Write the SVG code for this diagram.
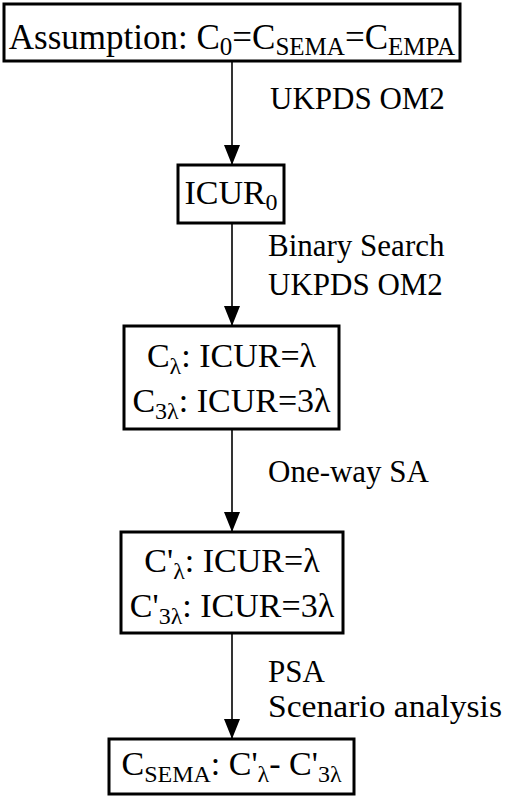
<svg xmlns="http://www.w3.org/2000/svg" width="505" height="801" viewBox="0 0 505 801">
<style>
.box{fill:#fff;stroke:#000;stroke-width:3}
.t{font-family:"Liberation Serif","Times New Roman",serif;fill:#000}
.bt{font-size:34px}
.lb{font-size:31px}
.edge{stroke:#000;stroke-width:1.6;fill:none}
</style>
<defs>
<marker id="arr" markerUnits="userSpaceOnUse" markerWidth="20" markerHeight="16" viewBox="0 0 20 16" refX="19" refY="8" orient="auto">
<path d="M0,0 L20,8 L0,16 Z" fill="#000"/>
</marker>
</defs>
<rect width="505" height="801" fill="#fff"/>
<g id="connectors">
<line class="edge" x1="232" y1="62" x2="232" y2="164" marker-end="url(#arr)"/>
<line class="edge" x1="232" y1="224" x2="232" y2="325" marker-end="url(#arr)"/>
<line class="edge" x1="232" y1="430" x2="232" y2="531" marker-end="url(#arr)"/>
<line class="edge" x1="232" y1="634" x2="232" y2="738" marker-end="url(#arr)"/>
</g>
<g id="labels" class="t lb">
<text x="270" y="109">UKPDS OM2</text>
<text x="268" y="256">Binary Search</text>
<text x="268" y="295">UKPDS OM2</text>
<text x="268" y="482">One-way SA</text>
<text x="268" y="682">PSA</text>
<text x="268" y="717" textLength="234" lengthAdjust="spacingAndGlyphs">Scenario analysis</text>
</g>
<g id="n1">
<rect class="box" x="4" y="4" width="456" height="57"/>
<text class="t" x="232" y="49" text-anchor="middle" font-size="35">Assumption: C<tspan font-size="25" dy="6">0</tspan><tspan dy="-6">=C</tspan><tspan font-size="25" dy="6">SEMA</tspan><tspan dy="-6">=C</tspan><tspan font-size="25" dy="6">EMPA</tspan></text>
</g>
<g id="n2">
<rect class="box" x="178" y="165" width="106" height="58"/>
<text class="t bt" x="231" y="204" text-anchor="middle">ICUR<tspan font-size="24" dy="6">0</tspan></text>
</g>
<g id="n3">
<rect class="box" x="124" y="326" width="215" height="103"/>
<text class="t bt" x="231.5" y="367" text-anchor="middle">C<tspan font-size="24" dy="7">λ</tspan><tspan dy="-7">: ICUR=λ</tspan></text>
<text class="t bt" x="231.5" y="412" text-anchor="middle">C<tspan font-size="24" dy="7">3λ</tspan><tspan dy="-7">: ICUR=3λ</tspan></text>
</g>
<g id="n4">
<rect class="box" x="121" y="532" width="222" height="101"/>
<text class="t bt" x="232" y="572" text-anchor="middle">C'<tspan font-size="24" dy="7">λ</tspan><tspan dy="-7">: ICUR=λ</tspan></text>
<text class="t bt" x="232" y="617" text-anchor="middle">C'<tspan font-size="24" dy="7">3λ</tspan><tspan dy="-7">: ICUR=3λ</tspan></text>
</g>
<g id="n5">
<rect class="box" x="109" y="739" width="245" height="55"/>
<text class="t bt" x="231.5" y="775" text-anchor="middle">C<tspan font-size="24" dy="7">SEMA</tspan><tspan dy="-7">: C'</tspan><tspan font-size="24" dy="7">λ</tspan><tspan dy="-7">- C'</tspan><tspan font-size="24" dy="7">3λ</tspan></text>
</g>
</svg>
